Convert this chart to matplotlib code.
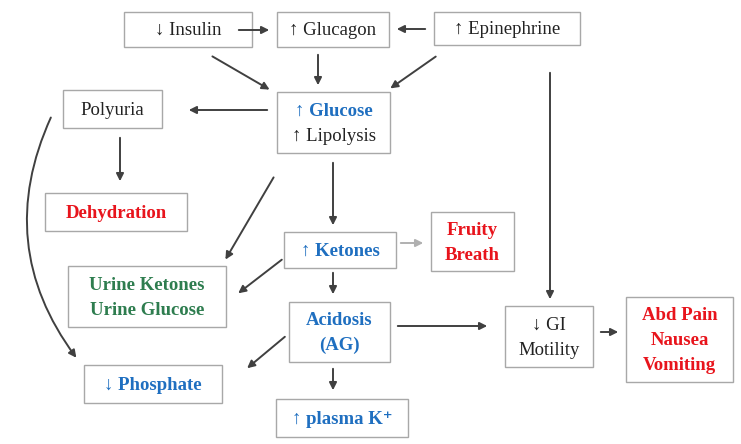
import matplotlib.pyplot as plt
from matplotlib.patches import Rectangle, FancyArrowPatch

plt.rcParams['font.family'] = ['Liberation Serif', 'DejaVu Serif']

BLACK, BLUE, RED, GREEN = '#222222', '#1f6fc0', '#e8141c', '#2e7d4f'

# (label lines, colours, bold, box x0, y0, x1, y1) in pixel coords
nodes = [
    (["↓ Insulin"], [BLACK], False, 124, 12, 252, 47),
    (["↑ Glucagon"], [BLACK], False, 277, 12, 389, 47),
    (["↑ Epinephrine"], [BLACK], False, 434, 12, 580, 45),
    (["Polyuria"], [BLACK], False, 63, 90, 162, 128),
    (["↑ Glucose", "↑ Lipolysis"], [BLUE, BLACK], None, 277, 92, 390, 153),
    (["Dehydration"], [RED], True, 45, 193, 187, 231),
    (["↑ Ketones"], [BLUE], True, 284, 232, 396, 268),
    (["Fruity", "Breath"], [RED, RED], True, 431, 212, 514, 271),
    (["Urine Ketones", "Urine Glucose"], [GREEN, GREEN], True, 68, 266, 226, 327),
    (["Acidosis", "(AG)"], [BLUE, BLUE], True, 289, 302, 390, 362),
    (["↓ GI", "Motility"], [BLACK, BLACK], False, 505, 306, 593, 367),
    (["Abd Pain", "Nausea", "Vomiting"], [RED, RED, RED], True, 626, 297, 733, 382),
    (["↓ Phosphate"], [BLUE], True, 84, 365, 222, 403),
    (["↑ plasma K⁺"], [BLUE], True, 276, 399, 408, 437),
]

arrows = [
    ((236, 30), (272, 30), '#404040'),
    ((428, 29), (394, 29), '#404040'),
    ((210, 55), (272, 91), '#404040'),
    ((318, 52), (318, 88), '#404040'),
    ((438, 55), (388, 90), '#404040'),
    ((270, 110), (186, 110), '#404040'),
    ((120, 135), (120, 184), '#404040'),
    ((333, 160), (333, 228), '#404040'),
    ((275, 175), (224, 262), '#404040'),
    ((398, 243), (426, 243), '#b0b0b0'),
    ((284, 258), (236, 295), '#404040'),
    ((333, 270), (333, 297), '#404040'),
    ((395, 326), (490, 326), '#404040'),
    ((287, 335), (245, 370), '#404040'),
    ((333, 366), (333, 393), '#404040'),
    ((550, 70), (550, 302), '#404040'),
    ((598, 332), (621, 332), '#404040'),
]

fig = plt.figure(figsize=(7.41, 4.44), dpi=100)
ax = fig.add_axes([0, 0, 1, 1])
ax.set_xlim(0, 741)
ax.set_ylim(444, 0)
ax.axis('off')

for lines, cols, bold, x0, y0, x1, y1 in nodes:
    ax.add_patch(Rectangle((x0, y0), x1 - x0, y1 - y0, fill=False,
                           edgecolor='#a8a8a8', lw=1))
    n = len(lines)
    cy = (y0 + y1) / 2
    step = 25
    for i, (t, c) in enumerate(zip(lines, cols)):
        w = 'bold' if (bold or (bold is None and i == 0)) else 'normal'
        ax.text((x0 + x1) / 2, cy + 1 + (i - (n - 1) / 2) * step, t, color=c,
                fontsize=13.5, fontweight=w, ha='center', va='center')

for a, b, c in arrows:
    ax.add_patch(FancyArrowPatch(a, b, arrowstyle='-|>', mutation_scale=11,
                                 color=c, lw=1.4))

# long curved arrow Polyuria -> Phosphate, bowing to the left
ax.add_patch(FancyArrowPatch((52, 115), (78, 360), arrowstyle='-|>',
                             mutation_scale=11, color='#404040', lw=1.4,
                             connectionstyle='arc3,rad=0.3'))

fig.savefig('out.png', dpi=100, facecolor='white')
